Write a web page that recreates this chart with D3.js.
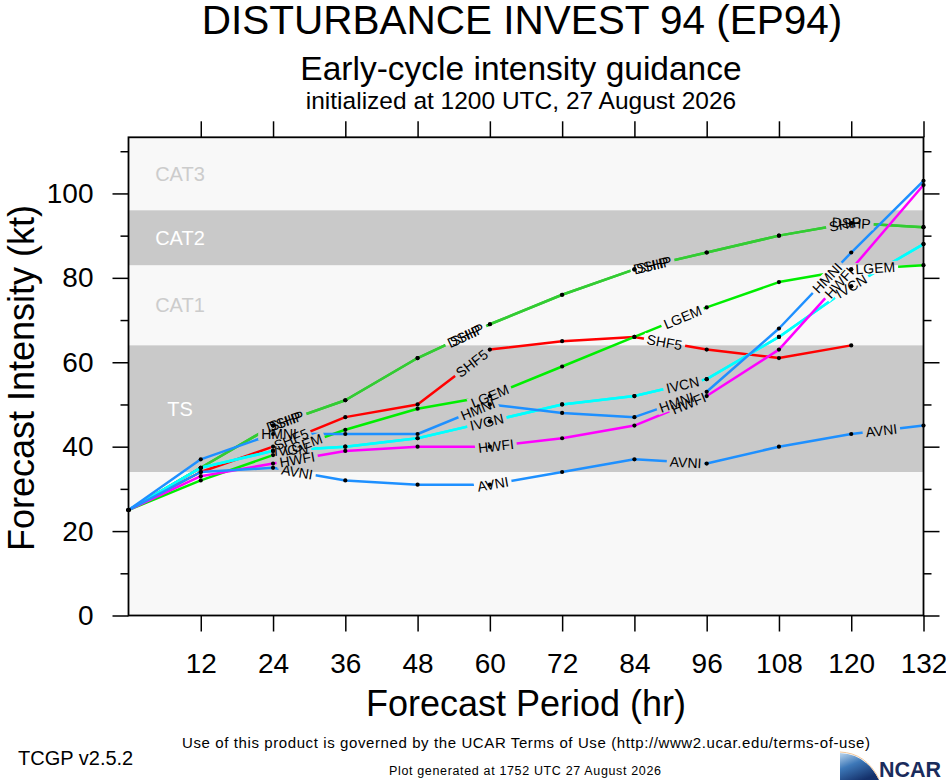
<!DOCTYPE html>
<html>
<head>
<meta charset="utf-8">
<script src="https://cdn.jsdelivr.net/npm/d3@7"></script>
<style>
  body { margin: 0; background: #ffffff; }
  svg text { font-family: "Liberation Sans", Arial, Helvetica, sans-serif; }
</style>
</head>
<body>
<div id="chart"></div>
<script>
// forecast hours (x) and model intensities in kt (y)
var hours = [0, 12, 24, 36, 48, 60, 72, 84, 96, 108, 120, 132];
var xTicks = [12, 24, 36, 48, 60, 72, 84, 96, 108, 120, 132];
var yTicks = [0, 20, 40, 60, 80, 100];
var yMinorTicks = [10, 30, 50, 70, 90, 110];

var modelNames = ["SHIP", "DSHP", "SHF5", "LGEM", "IVGN", "IVCN", "HWFI", "HMNI", "AVNI"];
var shipValues = [25, 35, 45, 51, 61, 69, 76, 82, 86, 90, 93, 92];
var dshpValues = [25, 35, 45, 51, 61, 69, 76, 82, 86, 90, 93, 92];
var shf5Values = [25, 34, 40, 47, 50, 63, 65, 66, 63, 61, 64, null];
var lgemValues = [25, 32, 38, 44, 49, 52, 59, 66, 73, 79, 82, 83];
var ivgnValues = [25, 35, 39, 40, 42, 46, 50, 52, 56, 66, 78, 88];
var ivcnValues = [25, 35, 39, 40, 42, 46, 50, 52, 56, 66, 78, 88];
var hwfiValues = [25, 33, 36, 39, 40, 40, 42, 45, 52, 63, 82, 102];
var hmniValues = [25, 37, 43, 43, 43, 50, 48, 47, 53, 68, 86, 103];
var avniValues = [25, 34, 35, 32, 31, 31, 34, 37, 36, 40, 43, 45];

// hours along each line where the model name is written
var shipLabelHours = [26, 56, 87, 119];
var dshpLabelHours = [26, 56, 87, 120];
var shf5LabelHours = [27, 57, 89];
var lgemLabelHours = [29, 60, 92, 124];
var ivgnLabelHours = [27, 59.5];
var ivcnLabelHours = [92, 120];
var hwfiLabelHours = [28, 61, 93, 118];
var hmniLabelHours = [25, 58, 91, 116];
var avniLabelHours = [28, 60.5, 92.5, 125];

// intensity category bands (kt)
var bandNames = ["TS", "CAT1", "CAT2", "CAT3"];
var bandLow = [34, 64, 83, 96];
var bandHigh = [64, 83, 96, 113.3];

var models = [
  {name: "SHIP", values: shipValues, labels: shipLabelHours, color: "#33cc33"},
  {name: "DSHP", values: dshpValues, labels: dshpLabelHours, color: "#33cc33"},
  {name: "SHF5", values: shf5Values, labels: shf5LabelHours, color: "#ff0000"},
  {name: "LGEM", values: lgemValues, labels: lgemLabelHours, color: "#00ee00"},
  {name: "IVGN", values: ivgnValues, labels: ivgnLabelHours, color: "#00ffff"},
  {name: "IVCN", values: ivcnValues, labels: ivcnLabelHours, color: "#00ffff"},
  {name: "HWFI", values: hwfiValues, labels: hwfiLabelHours, color: "#ff00ff"},
  {name: "HMNI", values: hmniValues, labels: hmniLabelHours, color: "#1e90ff"},
  {name: "AVNI", values: avniValues, labels: avniLabelHours, color: "#1e90ff"}
];

var svgWidth = 946;
var svgHeight = 780;
var plot = {left: 128.5, right: 923.5, top: 137.3, bottom: 615.5};

var svg = d3.select("#chart")
  .append("svg")
  .attr("width", svgWidth)
  .attr("height", svgHeight)
  .style("background", "#ffffff");

var x = d3.scaleLinear().domain([0, 132]).range([plot.left, plot.right]);
var y = d3.scaleLinear().domain([0, 113.3]).range([plot.bottom, plot.top]);

// background + bands
svg.append("rect")
  .attr("x", plot.left).attr("y", plot.top)
  .attr("width", plot.right - plot.left).attr("height", plot.bottom - plot.top)
  .attr("fill", "#f8f8f8");

bandNames.forEach(function(name, i) {
  var dark = (i % 2 === 0);
  if (dark) {
    svg.append("rect")
      .attr("x", plot.left).attr("y", y(bandHigh[i]))
      .attr("width", plot.right - plot.left)
      .attr("height", y(bandLow[i]) - y(bandHigh[i]))
      .attr("fill", "#c9c9c9");
  }
  svg.append("text")
    .attr("x", 180)
    .attr("y", y((bandLow[i] + bandHigh[i]) / 2))
    .attr("dy", "0.36em")
    .attr("text-anchor", "middle")
    .attr("font-size", "20px")
    .attr("fill", dark ? "#ffffff" : "#cccccc")
    .text(name);
});

// helpers for placing labels along a line
function valueAt(values, h) {
  var i = Math.min(Math.floor(h / 12), values.length - 2);
  var t = (h - hours[i]) / 12;
  return values[i] + t * (values[i + 1] - values[i]);
}
function angleAt(values, h) {
  var i = Math.min(Math.floor(h / 12), values.length - 2);
  var dx = x(hours[i + 1]) - x(hours[i]);
  var dy = y(values[i + 1]) - y(values[i]);
  return Math.atan2(dy, dx) * 180 / Math.PI;
}

// labels first (measured for the line gaps), then moved to the top
var labelGroup = svg.append("g");
var labelBoxes = [];
models.forEach(function(m) {
  m.labels.forEach(function(h) {
    var lx = x(h), ly = y(valueAt(m.values, h)), a = angleAt(m.values, h);
    var t = labelGroup.append("text")
      .attr("transform", "translate(" + lx + "," + ly + ") rotate(" + a + ")")
      .attr("text-anchor", "middle")
      .attr("dy", "0.36em")
      .attr("font-size", "14px")
      .attr("fill", "#000000")
      .text(m.name);
    labelBoxes.push({x: lx, y: ly, a: a, w: t.node().getComputedTextLength()});
  });
});

var defs = svg.append("defs");
var mask = defs.append("mask").attr("id", "gaps")
  .attr("maskUnits", "userSpaceOnUse")
  .attr("x", 0).attr("y", 0).attr("width", svgWidth).attr("height", svgHeight);
mask.append("rect").attr("width", svgWidth).attr("height", svgHeight).attr("fill", "white");
labelBoxes.forEach(function(b) {
  mask.append("rect")
    .attr("transform", "translate(" + b.x + "," + b.y + ") rotate(" + b.a + ")")
    .attr("x", -b.w / 2 - 3).attr("y", -6)
    .attr("width", b.w + 6).attr("height", 12)
    .attr("fill", "black");
});

var line = d3.line()
  .defined(function(d) { return d != null; })
  .x(function(d, i) { return x(hours[i]); })
  .y(function(d) { return y(d); });

var lineGroup = svg.append("g").attr("mask", "url(#gaps)");
models.forEach(function(m) {
  lineGroup.append("path")
    .attr("d", line(m.values))
    .attr("fill", "none")
    .attr("stroke", m.color)
    .attr("stroke-width", 2.5)
    .attr("stroke-linejoin", "round");
});

var dotGroup = svg.append("g");
models.forEach(function(m) {
  dotGroup.selectAll(null)
    .data(m.values.map(function(v, i) { return {h: hours[i], v: v}; }).filter(function(d) { return d.v != null; }))
    .enter()
    .append("circle")
    .attr("cx", function(d) { return x(d.h); })
    .attr("cy", function(d) { return y(d.v); })
    .attr("r", 2.1)
    .attr("fill", "#000000");
});

labelGroup.raise();

// axes
var axisStyle = function(g) {
  g.selectAll("path").remove();
  g.selectAll("line").attr("stroke", "#000").attr("stroke-width", 1.5);
  g.selectAll("text").attr("font-size", "28px").attr("fill", "#000")
    .style("font-family", "'Liberation Sans', Arial, sans-serif");
};

svg.append("g")
  .attr("transform", "translate(" + plot.left + ",0)")
  .call(d3.axisLeft(y).tickValues(yTicks).tickSize(16).tickPadding(19).tickFormat(d3.format("d")))
  .call(axisStyle);
svg.append("g")
  .attr("transform", "translate(" + plot.left + ",0)")
  .call(d3.axisLeft(y).tickValues(yMinorTicks).tickSize(8).tickFormat(""))
  .call(axisStyle);
svg.append("g")
  .attr("transform", "translate(" + plot.right + ",0)")
  .call(d3.axisRight(y).tickValues(yTicks).tickSize(16).tickFormat(""))
  .call(axisStyle);
svg.append("g")
  .attr("transform", "translate(" + plot.right + ",0)")
  .call(d3.axisRight(y).tickValues(yMinorTicks).tickSize(8).tickFormat(""))
  .call(axisStyle);
svg.append("g")
  .attr("transform", "translate(0," + plot.bottom + ")")
  .call(d3.axisBottom(x).tickValues(xTicks).tickSize(16).tickPadding(22))
  .call(axisStyle);
svg.append("g")
  .attr("transform", "translate(0," + plot.top + ")")
  .call(d3.axisTop(x).tickValues(xTicks).tickSize(16).tickFormat(""))
  .call(axisStyle);

svg.append("rect")
  .attr("x", plot.left).attr("y", plot.top)
  .attr("width", plot.right - plot.left).attr("height", plot.bottom - plot.top)
  .attr("fill", "none").attr("stroke", "#000").attr("stroke-width", 1.8);

// axis titles
svg.append("text")
  .attr("transform", "translate(34,378) rotate(-90)")
  .attr("text-anchor", "middle")
  .attr("font-size", "36px")
  .text("Forecast Intensity (kt)");

svg.append("text")
  .attr("x", 526).attr("y", 716)
  .attr("text-anchor", "middle")
  .attr("font-size", "36px")
  .text("Forecast Period (hr)");

// titles
svg.append("text")
  .attr("x", 522).attr("y", 34)
  .attr("text-anchor", "middle")
  .attr("font-size", "40.5px")
  .text("DISTURBANCE INVEST 94 (EP94)");
svg.append("text")
  .attr("x", 521).attr("y", 80)
  .attr("text-anchor", "middle")
  .attr("font-size", "33.5px")
  .text("Early-cycle intensity guidance");
svg.append("text")
  .attr("x", 521).attr("y", 109)
  .attr("text-anchor", "middle")
  .attr("font-size", "24.5px")
  .text("initialized at 1200 UTC, 27 August 2026");

// footer
svg.append("text")
  .attr("x", 526).attr("y", 748)
  .attr("text-anchor", "middle")
  .attr("font-size", "15px")
  .style("font-family", "'Liberation Sans Narrow', 'Liberation Sans', Arial, sans-serif")
  .attr("textLength", 688)
  .text("Use of this product is governed by the UCAR Terms of Use (http://www2.ucar.edu/terms-of-use)");
svg.append("text")
  .attr("x", 18).attr("y", 765)
  .attr("font-size", "20px")
  .text("TCGP v2.5.2");
svg.append("text")
  .attr("x", 525).attr("y", 775)
  .attr("text-anchor", "middle")
  .attr("font-size", "12.5px")
  .style("font-family", "'Liberation Sans Narrow', 'Liberation Sans', Arial, sans-serif")
  .attr("textLength", 272)
  .text("Plot generated at 1752 UTC   27 August 2026");

// NCAR logo
var grad = defs.append("linearGradient")
  .attr("id", "ncarGrad").attr("x1", 0).attr("y1", 0).attr("x2", 0.6).attr("y2", 1);
grad.append("stop").attr("offset", "0%").attr("stop-color", "#bcd6ee");
grad.append("stop").attr("offset", "45%").attr("stop-color", "#3d78b8");
grad.append("stop").attr("offset", "100%").attr("stop-color", "#14306a");
svg.append("path")
  .attr("d", "M840,753 Q866,754 879,780 L840,780 Z")
  .attr("fill", "url(#ncarGrad)");
svg.append("path")
  .attr("d", "M840,752 Q866,753 879,779")
  .attr("fill", "none").attr("stroke", "#f2c79a").attr("stroke-width", 1);
svg.append("text")
  .attr("x", 879).attr("y", 777)
  .attr("font-size", "21.5px")
  .attr("font-weight", "bold")
  .attr("fill", "#1a2c5c")
  .text("NCAR");
</script>
</body>
</html>
